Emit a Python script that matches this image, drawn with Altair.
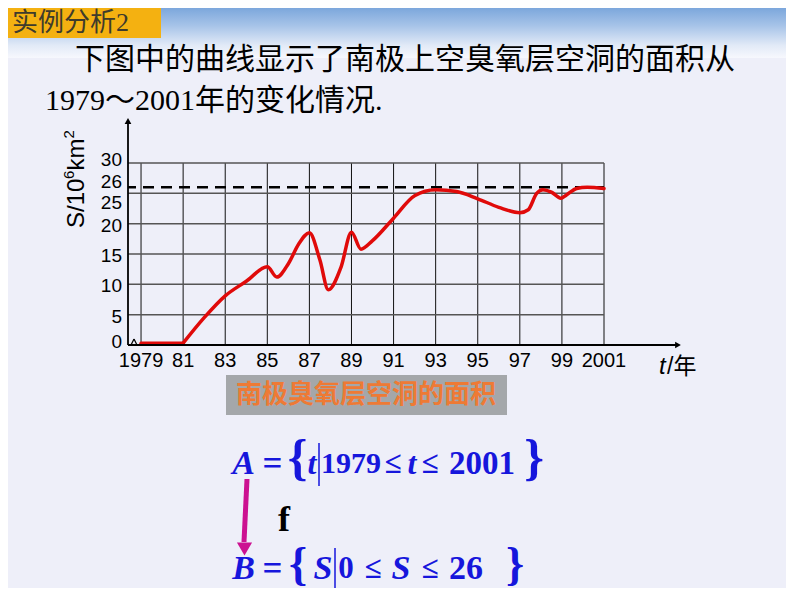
import altair as alt
import pandas as pd

# ---------------- data ----------------
# the flat start (1979-1981) and the rising curve are two pieces sharing 1981
years = [1979, 1981,
         1981, 1982, 1983, 1984, 1985, 1985.45, 1986, 1986.5, 1987,
         1987.5, 1987.9, 1988.5, 1989, 1989.45, 1990, 1991, 1992, 1993,
         1994, 1995, 1996, 1997, 1997.4, 1997.8, 1998.1, 1998.5, 1998.95,
         1999.2, 1999.7, 2000.2, 2001]
area = [0.3, 0.3,
        0.3, 4.5, 8.1, 10.5, 12.9, 11.2, 13.4, 16.7, 18.5,
        14.0, 9.1, 12.8, 18.6, 15.8, 17.2, 20.9, 24.6, 25.6,
        25.3, 24.1, 22.7, 21.8, 22.3, 25.0, 25.6, 25.2, 24.2,
        24.7, 25.8, 26.0, 25.8]
piece = ["flat", "flat"] + ["curve"] * (len(years) - 2)

x_ticks = [1979, 1981, 1983, 1985, 1987, 1989, 1991, 1993, 1995, 1997, 1999, 2001]
x_tick_labels = ["1979", "81", "83", "85", "87", "89", "91", "93", "95", "97", "99", "2001"]
y_ticks = [0, 5, 10, 15, 20, 25, 26, 30]
y_tick_labels = ["0", "5", "10", "15", "20", "25", "26", "30"]
grid_levels = [5, 10, 15, 20, 25, 30]
limit_level = [26]

# ---------------- layout helpers ----------------
W, H = 476, 182          # plot area
OX, OY = 128, 163        # page position of plot origin


def px(x):
    return x - OX


def py(y):
    return y - OY


one = pd.DataFrame({"k": [0]})
SERIF = "Liberation Serif, Noto Sans CJK SC"
SANS = "Liberation Sans, Noto Sans CJK SC"
CJK = "Noto Sans CJK SC"
BLUE = "#1616DC"


def text(s, x, y, size, color="black", font=SERIF, weight="normal",
         style="normal", align="center", angle=0):
    return alt.Chart(one).mark_text(
        text=s, fontSize=size, color=color, font=font, fontWeight=weight,
        fontStyle=style, align=align, baseline="middle", angle=angle
    ).encode(x=alt.value(px(x)), y=alt.value(py(y)))


def box(x1, x2, y1, y2, color):
    return alt.Chart(one).mark_rect(color=color).encode(
        x=alt.value(px(x1)), x2=alt.value(px(x2)),
        y=alt.value(py(y1)), y2=alt.value(py(y2)))


def seg(x1, y1, x2, y2, color="black", width=1.5):
    return alt.Chart(one).mark_rule(color=color, strokeWidth=width).encode(
        x=alt.value(px(x1)), x2=alt.value(px(x2)),
        y=alt.value(py(y1)), y2=alt.value(py(y2)))


def tri(x, y, shape, size, color="black"):
    return alt.Chart(one).mark_point(shape=shape, size=size, filled=True,
                                     color=color, opacity=1).encode(
        x=alt.value(px(x)), y=alt.value(py(y)))


xscale = alt.Scale(domain=[1978.38, 2001], nice=False, zero=False)
yscale = alt.Scale(domain=[0, 30], nice=False, zero=True)

# ---------------- background decorations ----------------
band = alt.Chart(one).mark_rect(
    color=alt.Gradient(
        gradient="linear",
        stops=[alt.GradientStop(color="#7CA7DC", offset=0),
               alt.GradientStop(color="#A6C3E8", offset=0.35),
               alt.GradientStop(color="#E2EAF7", offset=0.75),
               alt.GradientStop(color="#F7F8FD", offset=1)],
        x1=0, x2=0, y1=0, y2=1)
).encode(x=alt.value(px(8)), x2=alt.value(px(786)),
         y=alt.value(py(8)), y2=alt.value(py(58)))

header_box = box(8, 161, 8, 38, "#F4B111")
header_txt = text("实例分析2", 12, 23, 26, color="#3E3B2C", align="left")

line1 = text("下图中的曲线显示了南极上空臭氧层空洞的面积从", 75, 60, 30, align="left")
line2 = text("1979～2001年的变化情况.", 45, 101, 30, align="left")

# ---------------- chart ----------------
df = pd.DataFrame({"year": years, "area": area, "piece": piece})

vgrid = alt.Chart(pd.DataFrame({"t": x_ticks})).mark_rule(
    color="#111111", strokeWidth=1).encode(
    x=alt.X("t:Q", scale=xscale, axis=None))

hgrid = alt.Chart(pd.DataFrame({"s": grid_levels})).mark_rule(
    color="#555555", strokeWidth=1.5).encode(
    y=alt.Y("s:Q", scale=yscale, axis=None))

dashed = alt.Chart(pd.DataFrame({"s": limit_level})).mark_rule(
    color="black", strokeWidth=2.5, strokeDash=[11, 7]).encode(
    y=alt.Y("s:Q", scale=yscale, axis=None))

curve = alt.Chart(df).mark_line(
    color="#E00A0A", strokeWidth=3.5, interpolate="monotone", strokeCap="round",
    strokeJoin="round"
).encode(
    x=alt.X("year:Q", scale=xscale, axis=None),
    y=alt.Y("area:Q", scale=yscale, axis=None),
    detail="piece:N",
)

# tick labels placed through the scales
xlab_df = pd.DataFrame({"t": x_ticks, "lab": x_tick_labels})
x_labels = alt.Chart(xlab_df).mark_text(
    font="Liberation Sans", fontSize=20, color="black", baseline="middle"
).encode(x=alt.X("t:Q", scale=xscale, axis=None), y=alt.value(H + 16), text="lab:N")

ylab_df = pd.DataFrame({"v": y_ticks, "lab": y_tick_labels})


def ylabels(flt, dy):
    return alt.Chart(ylab_df).transform_filter(flt).mark_text(
        font="Liberation Sans", fontSize=19, color="black", align="right",
        baseline="middle", dy=dy
    ).encode(y=alt.Y("v:Q", scale=yscale, axis=None), x=alt.value(-6), text="lab:N")


y_lab_main = ylabels("datum.v != 25 && datum.v != 26 && datum.v != 0 && datum.v != 30", 2)
y_lab_0 = ylabels("datum.v == 0", -3)
y_lab_25 = ylabels("datum.v == 25", 10)
y_lab_26 = ylabels("datum.v == 26", -5)
y_lab_30 = ylabels("datum.v == 30", -3)

# axes with arrows
y_axis_line = seg(128, 122, 128, 345, width=1.8)
y_arrow = tri(128, 121, "triangle-up", 45)
x_axis_line = seg(128, 345, 677, 345, width=1.8)
x_arrow = tri(678, 345, "triangle-right", 45)
brk1 = seg(131, 345, 134, 339, width=1.3)
brk2 = seg(134, 339, 137, 345, width=1.3)

# axis titles: S/10^6 km^2 (rotated, with raised exponents)
yt1 = text("S/10", 77, 228, 24, font="Liberation Sans", align="left", angle=270)
yt2 = text("6", 69, 179, 15, font="Liberation Sans", align="left", angle=270)
yt3 = text("km", 77, 170.5, 24, font="Liberation Sans", align="left", angle=270)
yt4 = text("2", 69, 138.5, 15, font="Liberation Sans", align="left", angle=270)

x_title_t = text("t", 659, 367, 24, font="Liberation Sans", style="italic", align="left")
x_title_rest = text("/年", 667, 367, 23, font=SANS, align="left")

caption_box = box(226, 507, 375, 415, "#A4A7AA")
caption = text("南极臭氧层空洞的面积", 366, 395, 26, color="#EE7A35", font=CJK, weight="bold")


# ---------------- set notation ----------------
def math_line(items, y, bar_x, brace_size, brace_dy):
    layers = []
    for s, cx, kind, size in items:
        if kind == "brace":
            layers.append(text(s, cx, y + brace_dy, brace_size, color=BLUE, weight="bold"))
        elif kind == "it":
            layers.append(text(s, cx, y, size, color=BLUE, weight="bold", style="italic"))
        else:
            layers.append(text(s, cx, y, size, color=BLUE, weight="bold"))
    layers.append(seg(bar_x, y - 21, bar_x, y + 22, color=BLUE, width=1.5))
    return layers


line_a = math_line([("A", 243.5, "it", 34), ("=", 272.5, "up", 35), ("{", 297.5, "brace", 0),
                    ("t", 312, "it", 32), ("1979", 351, "up", 30), ("≤", 393, "up", 31),
                    ("t", 412, "it", 32), ("≤", 430, "up", 31), ("2001", 482, "up", 33),
                    ("}", 534, "brace", 0)], 464, 319, 50, -5)
line_b = math_line([("B", 243.5, "it", 34), ("=", 272.5, "up", 35), ("{", 298, "brace", 0),
                    ("S", 323, "it", 34), ("0", 346, "up", 31), ("≤", 373, "up", 31),
                    ("S", 401, "it", 34), ("≤", 430, "up", 31), ("26", 466, "up", 34),
                    ("}", 515, "brace", 0)], 569, 335, 46, -4)

arrow_line = seg(247, 479, 244, 542, color="#CC1191", width=5)
arrow_head = tri(244.5, 549, "triangle-down", 230, color="#CC1191")
f_txt = text("f", 284, 520, 36, weight="bold")

layers = [band, header_box, header_txt, line1, line2,
          vgrid, hgrid, dashed, curve,
          y_axis_line, y_arrow, x_axis_line, x_arrow, brk1, brk2,
          x_labels, y_lab_main, y_lab_0, y_lab_25, y_lab_26, y_lab_30,
          yt1, yt2, yt3, yt4, x_title_t, x_title_rest, caption_box, caption,
          arrow_line, arrow_head, f_txt] + line_a + line_b

chart = alt.layer(*layers).properties(
    width=W, height=H,
    autosize=alt.AutoSizeParams(type="none"),
    padding={"left": 120, "top": 155, "right": 182, "bottom": 243},
).configure(background="#EEEFF9").configure_view(stroke=None)

chart.save("out.html", embed_options={"renderer": "svg", "actions": False})
